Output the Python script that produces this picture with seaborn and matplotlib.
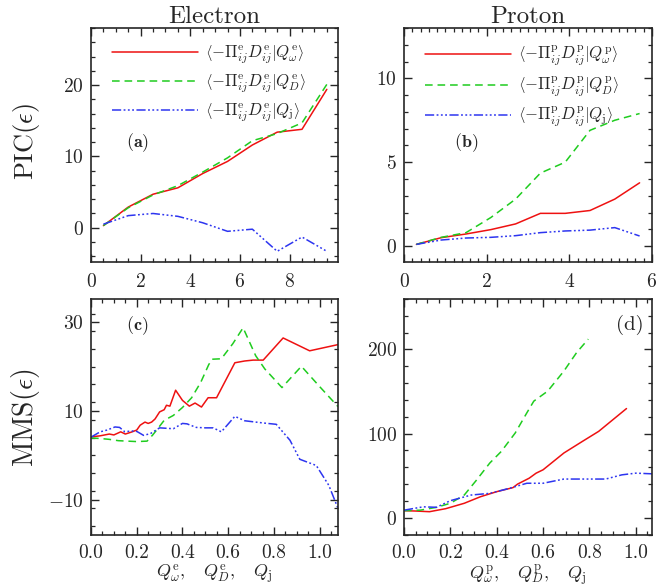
import numpy as np
import pandas as pd
import matplotlib
matplotlib.use("Agg")
import matplotlib.pyplot as plt
from matplotlib.ticker import MultipleLocator
import seaborn as sns

# ---- PIC, electrons (a) ----
a_x = [0.5, 1.5, 2.5, 3.5, 4.5, 5.5, 6.5, 7.5, 8.5, 9.5]
a_omega = [0.3, 2.9, 4.7, 5.6, 7.6, 9.3, 11.6, 13.4, 13.8, 19.4]
a_D = [0.3, 2.8, 4.6, 5.9, 7.8, 9.8, 12.2, 13.2, 14.7, 20.1]
a_j = [0.5, 1.7, 2.0, 1.6, 0.7, -0.5, -0.2, -3.3, -1.3, -3.3]

# ---- PIC, protons (b) ----
b_x = [0.3, 0.9, 1.5, 2.1, 2.7, 3.3, 3.9, 4.5, 5.1, 5.7]
b_omega = [0.1, 0.5, 0.72, 0.98, 1.32, 1.95, 1.95, 2.12, 2.8, 3.77]
b_D = [0.1, 0.52, 0.8, 1.7, 2.8, 4.35, 5.0, 6.9, 7.5, 7.9]
b_j = [0.1, 0.36, 0.48, 0.52, 0.62, 0.8, 0.9, 0.95, 1.1, 0.6]

# ---- MMS, electrons (c) ----
c_x_w = [0, 0.04, 0.08, 0.10, 0.13, 0.15, 0.18, 0.20, 0.215, 0.236, 0.25, 0.265,
         0.28, 0.30, 0.32, 0.33, 0.345, 0.37, 0.40, 0.43, 0.455, 0.483, 0.512,
         0.549, 0.629, 0.672, 0.709, 0.753, 0.84, 0.956, 1.08]
c_y_w = [4.15, 4.4, 4.8, 4.6, 5.3, 4.8, 5.3, 5.7, 6.8, 7.5, 7.2, 7.5,
         8.2, 9.8, 10.3, 11.3, 11.1, 14.7, 12.4, 11.1, 11.8, 10.9, 13.0,
         13.0, 20.9, 21.3, 21.5, 21.5, 26.5, 23.6, 25.0]
c_x_D = [0, 0.04, 0.08, 0.12, 0.16, 0.2, 0.245, 0.27, 0.29, 0.32, 0.36, 0.40,
         0.44, 0.48, 0.515, 0.53, 0.57, 0.62, 0.665, 0.72, 0.76, 0.835, 0.92,
         1.0, 1.08]
c_y_D = [3.9, 3.8, 3.6, 3.3, 3.2, 3.1, 3.2, 4.6, 5.9, 7.9, 9.0, 10.8,
         13.0, 16.5, 20.5, 21.7, 21.8, 25.2, 28.8, 22.5, 19.5, 15.3, 20.1,
         15.5, 11.0]
c_x_j = [0, 0.04, 0.07, 0.105, 0.125, 0.148, 0.175, 0.2, 0.23, 0.26, 0.30, 0.36,
         0.40, 0.42, 0.46, 0.50, 0.534, 0.57, 0.629, 0.672, 0.753, 0.81, 0.87,
         0.913, 0.985, 1.04, 1.08]
c_y_j = [4.1, 5.3, 5.7, 6.4, 6.3, 5.3, 5.5, 5.4, 4.5, 4.9, 6.2, 6.0,
         7.2, 7.1, 6.3, 6.2, 6.2, 5.3, 8.8, 7.8, 7.3, 7.0, 3.4,
         -0.9, -2.3, -6.8, -12.0]

# ---- MMS, protons (d) ----
d_x_w = [0, 0.05, 0.11, 0.18, 0.26, 0.33, 0.40, 0.47, 0.49, 0.54, 0.57, 0.60,
         0.69, 0.77, 0.84, 0.96]
d_y_w = [8.4, 8.0, 7.2, 10.8, 17.2, 25, 31, 35.8, 40, 47, 53, 57,
         77, 90.8, 102.7, 129.8]
d_x_D = [0, 0.07, 0.14, 0.2, 0.26, 0.31, 0.37, 0.42, 0.48, 0.53, 0.56, 0.62,
         0.69, 0.745, 0.795]
d_y_D = [8.4, 9, 12.4, 17.2, 27, 43.8, 65, 78.9, 100.8, 124.7, 138.6, 150.5,
         174.4, 196.4, 212.3]
d_x_j = [0, 0.083, 0.14, 0.2, 0.29, 0.37, 0.455, 0.53, 0.6, 0.69, 0.77, 0.87,
         0.94, 1.0, 1.09]
d_y_j = [9, 13, 12.4, 20.3, 27, 29, 35, 41, 41, 46, 46, 46, 51, 53, 52]

titles = ["Electron", "Proton"]

RED = "#ee1111"
GREEN = "#1fcc1f"
BLUE = "#2d35f0"
LS_W = "-"
LS_D = (0, (5.0, 3.2))
LS_J = (0, (6.0, 1.6, 1.2, 1.6, 1.2, 1.6, 1.2, 1.6))

sns.set_style("ticks")
plt.rcParams.update({
    "font.family": ["cmr10", "DejaVu Serif"],
    "mathtext.fontset": "cm",
    "axes.formatter.use_mathtext": True,
    "font.size": 14,
    "axes.linewidth": 1.2,
    "xtick.direction": "in",
    "ytick.direction": "in",
    "xtick.top": True,
    "ytick.right": True,
    "xtick.major.size": 5.5,
    "ytick.major.size": 5.5,
    "xtick.minor.size": 3,
    "ytick.minor.size": 3,
    "xtick.major.width": 1.0,
    "ytick.major.width": 1.0,
    "xtick.minor.width": 0.9,
    "ytick.minor.width": 0.9,
    "xtick.labelsize": 14,
    "ytick.labelsize": 14,
    "xtick.major.pad": 8,
    "ytick.major.pad": 5,
})

W, H = 658, 584
fig = plt.figure(figsize=(W / 100, H / 100), dpi=100)


def box(l, t, r, b):
    return [l / W, 1 - b / H, (r - l) / W, (b - t) / H]


ax_a = fig.add_axes(box(91, 28, 338, 262))
ax_b = fig.add_axes(box(404, 28, 652, 262))
ax_c = fig.add_axes(box(91, 299, 338, 535))
ax_d = fig.add_axes(box(404, 299, 652, 535))


def draw(ax, xs, ys, color, ls, label=None):
    df = pd.DataFrame({"x": xs, "y": ys})
    sns.lineplot(data=df, x="x", y="y", ax=ax, color=color, linestyle=ls,
                 linewidth=1.1, estimator=None, sort=False, label=label)


# angle brackets taken from the cmsy10 symbol font (slots 'h' and 'i')
LANG = r"\mathcal{h}"
RANG = r"\mathcal{i}"


def leg_label(s, q):
    return (r"$%s{-}\Pi^{\rm %s}_{ij}D^{\rm %s}_{ij}|%s%s$"
            % (LANG, s, s, q, RANG))


# PIC panels with their legends
for ax, xs, w, d, j, s in [(ax_a, a_x, a_omega, a_D, a_j, "e"),
                           (ax_b, b_x, b_omega, b_D, b_j, "p")]:
    draw(ax, xs, w, RED, LS_W, leg_label(s, r"Q^{\rm %s}_\omega" % s))
    draw(ax, xs, d, GREEN, LS_D, leg_label(s, r"Q^{\rm %s}_D" % s))
    draw(ax, xs, j, BLUE, LS_J, leg_label(s, r"Q_{\rm j}"))
    ax.legend(loc="upper left", frameon=False, fontsize=12,
              handlelength=5.2, handletextpad=0.4, labelspacing=0.4,
              borderaxespad=0.55, bbox_to_anchor=(0.02, 1.0))

# MMS panels
draw(ax_c, c_x_w, c_y_w, RED, LS_W)
draw(ax_c, c_x_D, c_y_D, GREEN, LS_D)
draw(ax_c, c_x_j, c_y_j, BLUE, LS_J)
draw(ax_d, d_x_w, d_y_w, RED, LS_W)
draw(ax_d, d_x_D, d_y_D, GREEN, LS_D)
draw(ax_d, d_x_j, d_y_j, BLUE, LS_J)

# limits and ticks
ax_a.set_xlim(0, 9.95)
ax_a.set_ylim(-4.8, 28)
ax_a.xaxis.set_major_locator(MultipleLocator(2))
ax_a.xaxis.set_minor_locator(MultipleLocator(0.5))
ax_a.yaxis.set_major_locator(MultipleLocator(10))
ax_a.yaxis.set_minor_locator(MultipleLocator(2))

ax_b.set_xlim(0, 6)
ax_b.set_ylim(-0.95, 13)
ax_b.xaxis.set_major_locator(MultipleLocator(2))
ax_b.xaxis.set_minor_locator(MultipleLocator(0.2))
ax_b.yaxis.set_major_locator(MultipleLocator(5))
ax_b.yaxis.set_minor_locator(MultipleLocator(1))

ax_c.set_xlim(0, 1.08)
ax_c.set_ylim(-18, 35.3)
ax_c.set_yticks([-10, 10, 30])
ax_c.yaxis.set_minor_locator(MultipleLocator(4))
ax_c.xaxis.set_major_locator(MultipleLocator(0.2))
ax_c.xaxis.set_minor_locator(MultipleLocator(0.05))

ax_d.set_xlim(0, 1.07)
ax_d.set_ylim(-20.5, 260)
ax_d.yaxis.set_major_locator(MultipleLocator(100))
ax_d.yaxis.set_minor_locator(MultipleLocator(20))
ax_d.xaxis.set_major_locator(MultipleLocator(0.2))
ax_d.xaxis.set_minor_locator(MultipleLocator(0.05))

for ax in (ax_c, ax_d):
    ax.xaxis.set_major_formatter(plt.FuncFormatter(lambda v, p: "%.1f" % v))
    ax.tick_params(axis="x", which="major", pad=6.5)

for ax in (ax_a, ax_b, ax_c, ax_d):
    ax.set_xlabel("")
    ax.set_ylabel("")
    for sp in ax.spines.values():
        sp.set_visible(True)
        sp.set_linewidth(1.2)
    ax.tick_params(which="both", top=True, right=True, direction="in")

ax_a.set_title(titles[0], fontsize=18, pad=3)
ax_b.set_title(titles[1], fontsize=18, pad=3)

# row labels on the left
fig.text(26 / W, 1 - 141 / H, r"PIC$(\epsilon)$", fontsize=19, rotation=90,
         ha="center", va="center")
fig.text(26 / W, 1 - 418 / H, r"MMS$(\epsilon)$", fontsize=20, rotation=90,
         ha="center", va="center")

for ax, s in [(ax_c, "e"), (ax_d, "p")]:
    ax.set_xlabel(r"$Q^{\rm %s}_\omega,\ \ \ Q^{\rm %s}_D,\ \ \ Q_{\rm j}$" % (s, s),
                  fontsize=13, labelpad=0.5)

ax_a.text(0.14, 0.51, r"$\mathbf{(a)}$", transform=ax_a.transAxes, fontsize=13,
          ha="left", va="center")
ax_b.text(0.2, 0.51, r"$\mathbf{(b)}$", transform=ax_b.transAxes, fontsize=13,
          ha="left", va="center")
ax_c.text(0.14, 0.885, r"$\mathbf{(c)}$", transform=ax_c.transAxes, fontsize=13,
          ha="left", va="center")
ax_d.text(0.965, 0.89, "(d)", transform=ax_d.transAxes, fontsize=15,
          ha="right", va="center")

fig.savefig("out.png", dpi=100)
